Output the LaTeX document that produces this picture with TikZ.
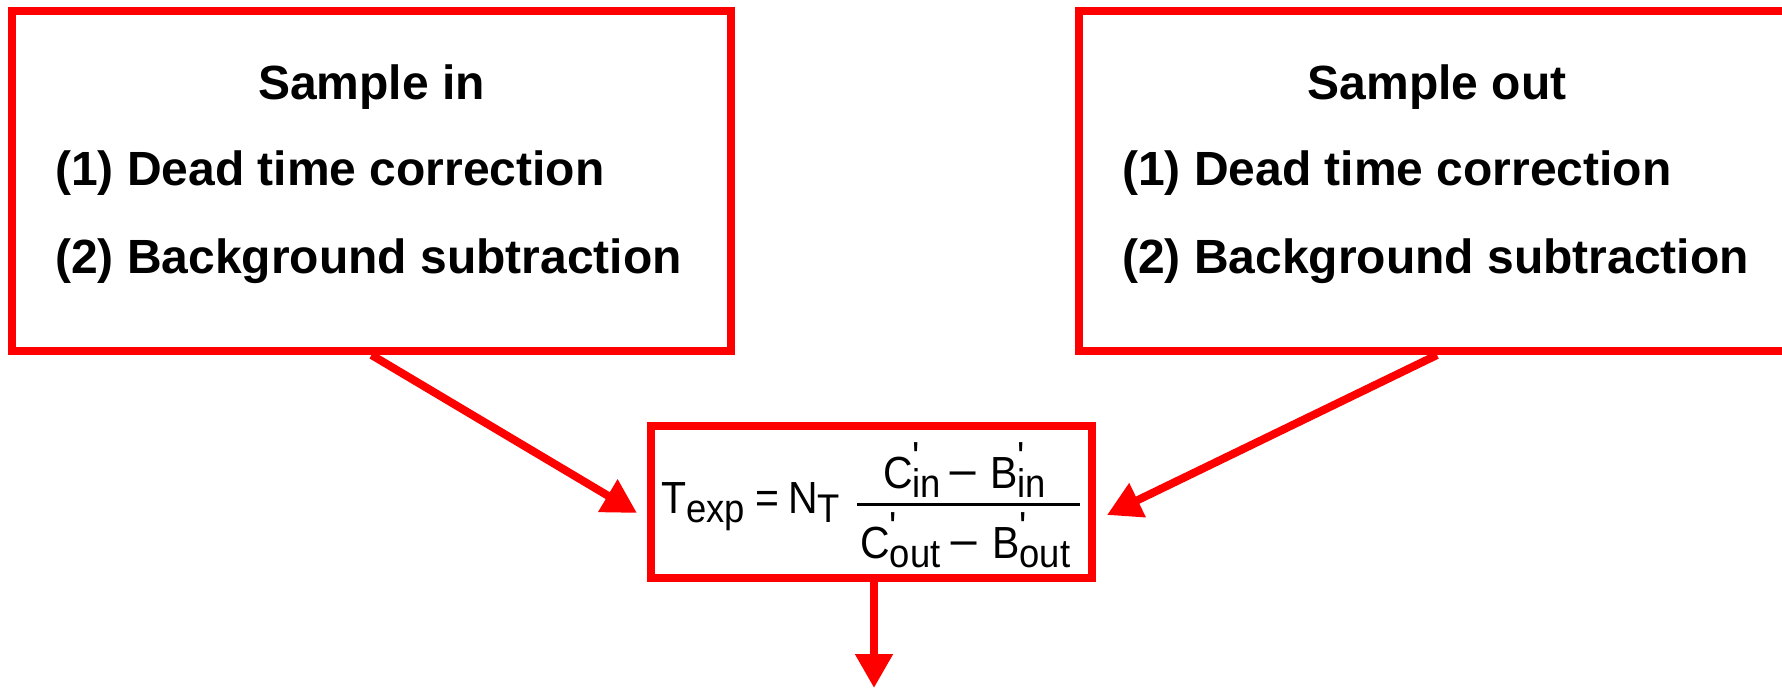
\documentclass[tikz,border=0pt]{standalone}
\usepackage{fontspec}
\setmainfont{Liberation Sans}
\newfontfamily\formfont{Liberation Sans}[Ligatures=TeXOff, FakeStretch=0.91]
\usetikzlibrary{arrows.meta}
\newcommand\subtxt[1]{\raisebox{-9.5pt}{\fontsize{40}{44}\selectfont #1}}
\newcommand\primemark{\rlap{\raisebox{17pt}{\fontsize{42}{44}\selectfont\char"0027}}}
\tikzset{
  redbox/.style={draw=red, line width=8pt, inner sep=0pt},
  boxtext/.style={inner sep=0pt, font=\fontsize{48}{56}\selectfont\bfseries},
  formtext/.style={inner sep=0pt, font=\formfont\fontsize{45}{52}\selectfont},
  redarrow/.style={draw=red, line width=8pt, -{Triangle[length=34pt, width=36pt]}}
}
\begin{document}
\begin{tikzpicture}[x=1pt, y=-1pt]
\useasboundingbox (0,0) rectangle (1782,688);
\clip (0,0) rectangle (1782,688);
% boxes
\node[redbox, minimum width=719pt, minimum height=340pt] (lbox) at (371.5,181) {};
\node[redbox, minimum width=716pt, minimum height=340pt] (rbox) at (1437,181) {};
\node[redbox, minimum width=441pt, minimum height=152pt] (mbox) at (871.5,502) {};
% left box text
\node[boxtext, anchor=base] (ltitle) at (371.5,99) {Sample in};
\node[boxtext, anchor=base west] (lone) at (55,185) {(1) Dead time correction};
\node[boxtext, anchor=base west] (ltwo) at (55,273) {(2) Background subtraction};
% right box text
\node[boxtext, anchor=base] (rtitle) at (1437,99) {Sample out};
\node[boxtext, anchor=base west] (rone) at (1122,185) {(1) Dead time correction};
\node[boxtext, anchor=base west] (rtwo) at (1122,273) {(2) Background subtraction};
% formula
\node[formtext, anchor=base west] (texp) at (661,513) {T\subtxt{exp}};
\node[formtext, anchor=base] (eq) at (767.5,513) {=};
\node[formtext, anchor=base west] (nt) at (788,513) {N\subtxt{T}};
\node[formtext, anchor=base west] (cin) at (883,488) {C\primemark\subtxt{in}};
\node[formtext, anchor=base] (mnum) at (963,488) {\scalebox{1.3}[1]{−}};
\node[formtext, anchor=base west] (bin) at (990,488) {B\primemark\subtxt{in}};
\node[formtext, anchor=base west] (cout) at (860,558) {C\primemark\subtxt{out}};
\node[formtext, anchor=base] (mden) at (964,558) {\scalebox{1.3}[1]{−}};
\node[formtext, anchor=base west] (bout) at (992,558) {B\primemark\subtxt{out}};
\coordinate (barl) at (857,504);
\coordinate (barr) at (1080,504);
\draw[line width=3pt] (barl) -- (barr);
% connectors
\coordinate (ltip) at (637,513);
\coordinate (rtip) at (1107,515);
\coordinate (btip) at (874,688);
\path[redarrow] (lbox.south) -- (ltip);
\path[redarrow] (rbox.south) -- (rtip);
\path[redarrow] (mbox.south -| btip) -- (btip);
\end{tikzpicture}
\end{document}
